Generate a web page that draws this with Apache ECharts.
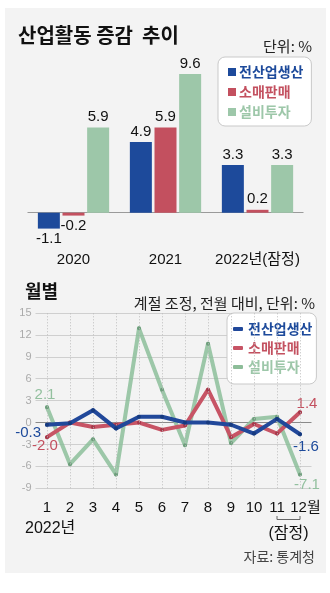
<!DOCTYPE html>
<html>
<head>
<meta charset="utf-8">
<script src="https://cdn.jsdelivr.net/npm/echarts@6/dist/echarts.min.js"></script>
<style>
  html, body { margin: 0; padding: 0; background: #fff; }
  #c { width: 330px; height: 593px; }
</style>
</head>
<body>
<div id="c"></div>
<script>
// Series names (shared by both panels)
const seriesNames = ['전산업생산', '소매판매', '설비투자'];

// Annual change, %
const yearCats = ['2020', '2021', '2022년(잠정)'];
const yearProd = [-1.1, 4.9, 3.3];
const yearRetail = [-0.2, 5.9, 0.2];
const yearInvest = [5.9, 9.6, 3.3];

// Monthly change (seasonally adjusted, m/m), %
const monthCats = ['1', '2', '3', '4', '5', '6', '7', '8', '9', '10', '11', '12월'];
const monthProd = [-0.3, -0.1, 1.7, -0.8, 0.8, 0.8, 0.0, 0.0, -0.3, -1.5, 0.5, -1.6];
const monthRetail = [-2.0, 0.0, -0.6, -0.3, 0.0, -1.0, -0.4, 4.5, -2.0, -0.2, -1.5, 1.4];
const monthInvest = [2.1, -5.7, -2.3, -7.1, 12.9, 4.5, -3.1, 10.8, -2.8, 0.5, 0.8, -7.1];
const monthTicks = [-9, -6, -3, 0, 3, 6, 9, 12, 15];

const BLUE = '#1d4a9b', RED = '#c3505f', GREEN = '#9dc7a9';
const LINE_BLUE = '#21489a', LINE_RED = '#c75465', LINE_GREEN = 'rgba(140,190,154,0.85)';
const DOT_BLUE = '#163a7e', DOT_RED = '#a5384a', DOT_GREEN = '#6e9e7c';

const NUM_FONT = '"Liberation Sans Narrow", "Liberation Sans", "Noto Sans CJK KR", sans-serif';
const KR_FONT = '"Noto Sans CJK KR", "Noto Sans", sans-serif';

const chart = echarts.init(document.getElementById('c'), null, { renderer: 'canvas' });

function barData(vals) {
  return vals.map(v => ({ value: v, label: { position: v < 0 ? 'bottom' : 'top' } }));
}

function barSeries(name, vals, color) {
  return {
    type: 'bar', name: name, xAxisIndex: 0, yAxisIndex: 0,
    data: barData(vals), barWidth: 22, barGap: '12%',
    itemStyle: { color: color },
    label: {
      show: true, distance: 3, color: '#111', fontSize: 15, fontFamily: NUM_FONT,
      formatter: p => p.value.toFixed(1)
    }
  };
}

// end-point labels for the monthly lines: [index, position, offset]
function lineData(vals, color, ends) {
  return vals.map((v, i) => {
    const e = ends.find(x => x[0] === i);
    if (!e) return v;
    return {
      value: v,
      label: {
        show: true, position: e[1], offset: e[2], color: color,
        fontSize: 15, fontFamily: NUM_FONT, formatter: p => p.value.toFixed(1)
      }
    };
  });
}

function lineSeries(name, vals, lineColor, dotColor, labelColor, ends, z) {
  return {
    type: 'line', name: name, xAxisIndex: 1, yAxisIndex: 1, z: z,
    data: lineData(vals, labelColor, ends),
    symbol: 'circle', symbolSize: 4, showSymbol: true,
    itemStyle: { color: dotColor },
    lineStyle: { color: lineColor, width: 4, cap: 'round', join: 'round' },
    emphasis: { disabled: true }
  };
}

const zeroGrid = monthTicks.map(t => t === 0 ? '#8a8a8a' : '#cfcfcf');

const option = {
  backgroundColor: '#fff',
  animation: false,
  textStyle: { fontFamily: KR_FONT },
  grid: [
    { left: 27.5, right: 26.5, top: 68.2, bottom: 351.4 },
    { left: 35.5, right: 18.5, top: 313, bottom: 104.7 }
  ],
  xAxis: [
    {
      gridIndex: 0, type: 'category', data: yearCats,
      axisLine: { show: false }, axisTick: { show: false },
      axisLabel: { interval: 0, color: '#111', fontSize: 15, fontFamily: NUM_FONT, margin: 11 }
    },
    {
      gridIndex: 1, type: 'category', data: monthCats, boundaryGap: true,
      axisLine: { show: false }, axisTick: { show: false },
      axisLabel: {
        interval: 0, color: '#111', fontSize: 15, fontFamily: NUM_FONT, margin: 12,
        formatter: v => v.endsWith('월') ? '{p|' + v + '}' : v,
        rich: { p: { fontSize: 15, fontFamily: NUM_FONT, color: '#111', padding: [0, 0, 0, 11] } }
      }
    }
  ],
  yAxis: [
    {
      gridIndex: 0, type: 'value', min: -2, max: 10, interval: 2,
      axisLabel: { show: false }, axisLine: { show: false }, axisTick: { show: false },
      splitLine: { show: true, lineStyle: { color: ['transparent', '#9a9a9a', 'transparent', 'transparent', 'transparent', 'transparent', 'transparent'], width: 1 } }
    },
    {
      gridIndex: 1, type: 'value', min: monthTicks[0], max: monthTicks[monthTicks.length - 1], interval: 3,
      axisLine: { show: false }, axisTick: { show: false },
      axisLabel: { color: '#ababab', fontSize: 11, fontFamily: NUM_FONT, margin: 4 },
      splitLine: { show: true, lineStyle: { color: zeroGrid, width: 1 } }
    }
  ],
  legend: [
    {
      orient: 'vertical', left: 218, top: 57,
      padding: [7, 8, 6, 10], itemGap: 4,
      icon: 'rect', itemWidth: 8, itemHeight: 8,
      backgroundColor: '#fff', borderColor: '#c9c9c9', borderWidth: 1, borderRadius: 7,
      selectedMode: false,
      textStyle: { fontSize: 14, fontWeight: 'bold', fontFamily: KR_FONT, lineHeight: 16, padding: [0, 0, 0, -2] },
      data: [
        { name: seriesNames[0], itemStyle: { color: BLUE }, textStyle: { color: BLUE } },
        { name: seriesNames[1], itemStyle: { color: RED }, textStyle: { color: RED } },
        { name: seriesNames[2], itemStyle: { color: GREEN }, textStyle: { color: GREEN } }
      ]
    },
    {
      orient: 'vertical', left: 227, top: 313,
      padding: [8, 4, 9, 6], itemGap: 3,
      icon: 'roundRect', itemWidth: 10, itemHeight: 4,
      backgroundColor: '#fff', borderColor: '#c9c9c9', borderWidth: 1, borderRadius: 7,
      selectedMode: false,
      textStyle: { fontSize: 14, fontWeight: 'bold', fontFamily: KR_FONT, lineHeight: 16 },
      data: [
        { name: seriesNames[0], itemStyle: { color: LINE_BLUE }, textStyle: { color: BLUE } },
        { name: seriesNames[1], itemStyle: { color: LINE_RED }, textStyle: { color: RED } },
        { name: seriesNames[2], itemStyle: { color: '#8dbd99' }, textStyle: { color: GREEN } }
      ]
    }
  ],
  series: [
    barSeries(seriesNames[0], yearProd, BLUE),
    barSeries(seriesNames[1], yearRetail, RED),
    barSeries(seriesNames[2], yearInvest, GREEN),
    {
      // dotted month guides
      type: 'line', xAxisIndex: 1, yAxisIndex: 1, data: [], z: 1, silent: true,
      markLine: {
        silent: true, symbol: ['none', 'none'], label: { show: false },
        lineStyle: { type: [1, 2], color: '#bdbdbd', width: 1 },
        data: monthCats.map(c => ({ xAxis: c }))
      }
    },
    lineSeries(seriesNames[2], monthInvest, LINE_GREEN, DOT_GREEN, '#93c09f',
      [[0, 'top', [-2, 2]], [11, 'bottom', [7, -4]]], 3),
    lineSeries(seriesNames[1], monthRetail, LINE_RED, DOT_RED, RED,
      [[0, 'bottom', [-2, -6]], [11, 'top', [7, 6]]], 4),
    lineSeries(seriesNames[0], monthProd, LINE_BLUE, DOT_BLUE, BLUE,
      [[0, 'left', [1, 8]], [11, 'bottom', [6, -2]]], 5)
  ]
};

chart.setOption(option);

// bracket under the last two months, placed from the axis scale
const x11 = chart.convertToPixel({ xAxisIndex: 1 }, monthCats[10]);
const x12 = chart.convertToPixel({ xAxisIndex: 1 }, monthCats[11]);

function txt(text, x, y, size, opts) {
  opts = opts || {};
  return {
    type: 'text', silent: true, z: 10,
    style: {
      text: text, x: x, y: y,
      fill: opts.color || '#111',
      font: (opts.bold ? 'bold ' : '') + size + 'px ' + (opts.font || KR_FONT),
      textAlign: opts.align || 'left', textVerticalAlign: 'middle'
    }
  };
}

chart.setOption({
  graphic: [
    { type: 'rect', silent: true, z: -10, shape: { x: 5, y: 8, width: 321, height: 565 }, style: { fill: '#f3f3f3' } },
    txt('산업활동 증감  추이', 18, 35, 20, { bold: true }),
    txt('단위: %', 312, 46, 15, { align: 'right', color: '#222' }),
    txt('월별', 25, 291, 18, { bold: true }),
    txt('계절 조정, 전월 대비, 단위: %', 315, 303, 15, { align: 'right', color: '#222' }),
    txt('2022년', 25, 529, 16, { font: NUM_FONT }),
    txt('(잠정)', (x11 + x12) / 2, 534, 16, { align: 'center', font: NUM_FONT }),
    txt('자료: 통계청', 315, 557, 14, { align: 'right', color: '#444' }),
    {
      type: 'polyline', silent: true, z: 10,
      shape: { points: [[x11, 516], [x11, 519.5], [x12, 519.5], [x12, 516]] },
      style: { stroke: '#666', lineWidth: 1, fill: null }
    }
  ]
});
</script>
</body>
</html>
